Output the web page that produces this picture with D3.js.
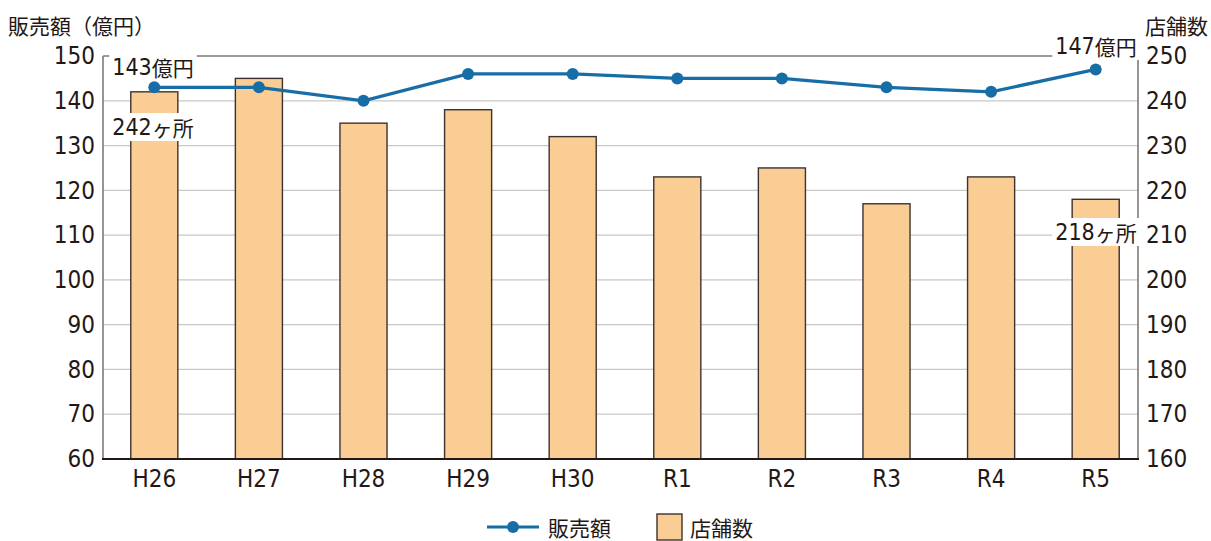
<!DOCTYPE html>
<html><head><meta charset="utf-8">
<script src="https://cdn.jsdelivr.net/npm/d3@7/dist/d3.min.js"></script>
<style>
html,body{margin:0;padding:0;background:#fff;}
svg text{fill:#231815;}
.num{font-family:"Liberation Sans Narrow","DejaVu Sans Condensed","Roboto Condensed","Roboto",sans-serif;font-stretch:condensed;}
.jp{font-family:"Noto Sans CJK JP",sans-serif;}
</style></head>
<body>
<svg id="c" width="1211" height="541"></svg>
<script>
const categories = ["H26","H27","H28","H29","H30","R1","R2","R3","R4","R5"];
const sales = [143,143,140,146,146,145,145,143,142,147];
const stores = [242,245,235,238,232,223,225,217,223,218];
const leftTicks = [60,70,80,90,100,110,120,130,140,150];
const rightTicks = [160,170,180,190,200,210,220,230,240,250];

const svg = d3.select("#c");
const L=103, R=1138, T=56, B=459;
const x = d3.scaleBand().domain(categories).range([102,1148]).paddingInner(0.55).paddingOuter(0.275);
const yL = d3.scaleLinear().domain([60,150]).range([B,T]);
const yR = d3.scaleLinear().domain([160,250]).range([B,T]);
const NUMFONT = '"Liberation Sans Narrow","DejaVu Sans Condensed","Roboto Condensed","Roboto",sans-serif';

// gridlines
svg.append("g").selectAll("line").data(leftTicks.filter(d=>d>60&&d<150)).join("line")
  .attr("x1",L).attr("x2",R).attr("y1",d=>yL(d)).attr("y2",d=>yL(d))
  .attr("stroke","#c8c8c8").attr("stroke-width",1.3);
// top line
svg.append("line").attr("x1",L).attr("x2",R).attr("y1",T).attr("y2",T).attr("stroke","#7f7a76").attr("stroke-width",1.6);

// bars
svg.append("g").selectAll("rect").data(stores).join("rect")
  .attr("x",(d,i)=>x(categories[i])).attr("width",x.bandwidth())
  .attr("y",d=>yR(d)).attr("height",d=>B-yR(d))
  .attr("fill","#f9cd93").attr("stroke","#3e3230").attr("stroke-width",1.4);

// axes lines
svg.append("line").attr("x1",L).attr("x2",L).attr("y1",T).attr("y2",B).attr("stroke","#7f7a76").attr("stroke-width",1.6);
svg.append("line").attr("x1",R).attr("x2",R).attr("y1",T).attr("y2",B).attr("stroke","#7f7a76").attr("stroke-width",1.6);
svg.append("line").attr("x1",L-1).attr("x2",R+1).attr("y1",B).attr("y2",B).attr("stroke","#231815").attr("stroke-width",2);

// axis labels via d3 axes
const gl = svg.append("g").attr("transform",`translate(${L},0)`).call(d3.axisLeft(yL).tickValues(leftTicks).tickSize(0).tickPadding(8));
const gr = svg.append("g").attr("transform",`translate(${R},0)`).call(d3.axisRight(yR).tickValues(rightTicks).tickSize(0).tickPadding(8));
const gb = svg.append("g").attr("transform",`translate(0,${B})`).call(d3.axisBottom(x).tickSize(0).tickPadding(11));
[gl,gr,gb].forEach(g=>{g.attr("font-family",null).attr("font-size",null);
  g.select(".domain").remove(); g.selectAll("text").attr("font-size",24).attr("fill","#231815")
  .style("font-family",NUMFONT).style("font-stretch","condensed");});

// line
const cx = c=>x(c)+x.bandwidth()/2;
svg.append("path").datum(sales).attr("fill","none").attr("stroke","#176ea6").attr("stroke-width",3.2)
  .attr("d",d3.line().x((d,i)=>cx(categories[i])).y(d=>yL(d)));
svg.append("g").selectAll("circle").data(sales).join("circle")
  .attr("cx",(d,i)=>cx(categories[i])).attr("cy",d=>yL(d)).attr("r",6).attr("fill","#176ea6");

// annotations with white background
function label(num, unit, xc, yc){
  const t = svg.append("text").attr("x",xc).attr("y",yc).attr("text-anchor","middle").attr("dominant-baseline","central")
    .attr("font-size",23);
  t.append("tspan").style("font-family",NUMFONT).style("font-stretch","condensed").text(num);
  t.append("tspan").attr("class","jp").attr("font-size",21).text(unit);
  const bb = t.node().getBBox();
  svg.insert("rect",()=>t.node()).attr("x",bb.x-3).attr("y",bb.y+1).attr("width",bb.width+6).attr("height",bb.height-2).attr("fill","#fff");
}
label(sales[0], "億円", 153, 67);
label(stores[0], "ヶ所", 153, 127);
label(sales[9], "億円", 1096, 46);
label(stores[9], "ヶ所", 1096, 232);

// axis titles
svg.append("text").attr("x",8).attr("y",25).attr("dominant-baseline","central").attr("font-size",21).attr("class","jp").text("販売額（億円）");
svg.append("text").attr("x",1208).attr("y",25).attr("dominant-baseline","central").attr("text-anchor","end").attr("font-size",21).attr("class","jp").text("店舗数");

// legend
svg.append("line").attr("x1",487).attr("x2",539).attr("y1",527).attr("y2",527).attr("stroke","#176ea6").attr("stroke-width",3.2);
svg.append("circle").attr("cx",513).attr("cy",527).attr("r",6).attr("fill","#176ea6");
svg.append("text").attr("x",548).attr("y",527).attr("dominant-baseline","central").attr("font-size",21).attr("class","jp").text("販売額");
svg.append("rect").attr("x",657).attr("y",514).attr("width",25).attr("height",26).attr("fill","#f9cd93").attr("stroke","#3e3230").attr("stroke-width",1.4);
svg.append("text").attr("x",690).attr("y",527).attr("dominant-baseline","central").attr("font-size",21).attr("class","jp").text("店舗数");
</script>
</body></html>
